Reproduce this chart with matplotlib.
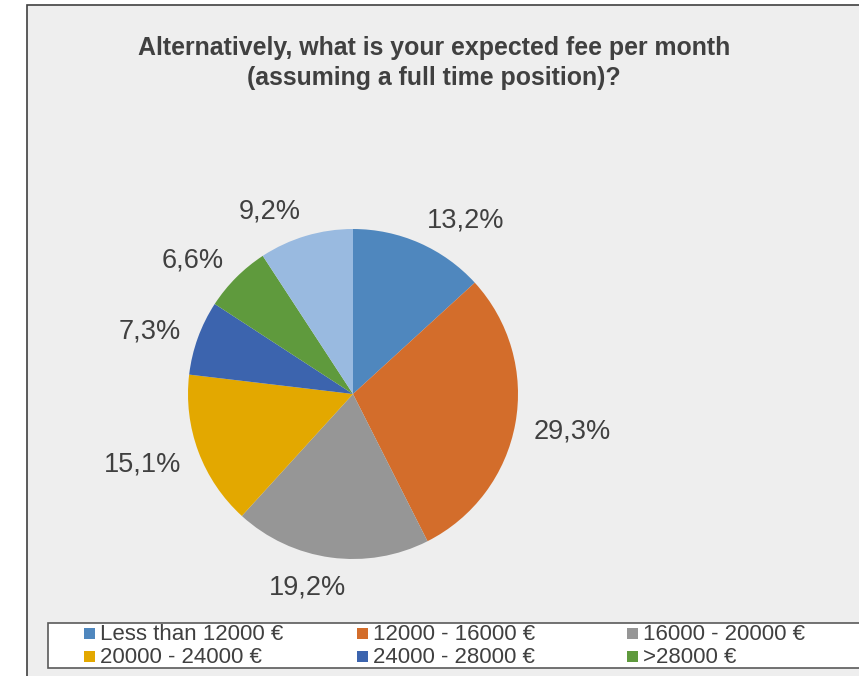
import numpy as np
import matplotlib
matplotlib.use("Agg")
import matplotlib.pyplot as plt
from matplotlib.patches import Rectangle

plt.rcParams['font.family'] = ['Liberation Sans', 'DejaVu Sans']

# Survey answers: expected monthly fee
categories = ["Less than 12000 €", "12000 - 16000 €", "16000 - 20000 €",
              "20000 - 24000 €", "24000 - 28000 €", ">28000 €", "No answer"]
shares = [13.2, 29.3, 19.2, 15.1, 7.3, 6.6, 9.2]
colors = ["#4F87BE", "#D36D2B", "#969696", "#E3A800", "#3C64AE", "#5F9A3D", "#99BAE0"]
legend_count = 6
title = "Alternatively, what is your expected fee per month\n(assuming a full time position)?"

W, H = 859, 676
fig = plt.figure(figsize=(W / 100, H / 100), dpi=100)
fig.patch.set_facecolor("white")

# Chart area panel
fig.patches.append(Rectangle((27 / W, -0.01), 1.0, (H - 5) / H + 0.01,
                             transform=fig.transFigure, facecolor="#EEEEEE",
                             edgecolor="#404040", linewidth=1.2, zorder=-2))

fig.text(434 / W, 1 - 63 / H, title, ha="center", va="center",
         fontsize=17.9, fontweight="bold", color="#404040", linespacing=1.33)

# Pie axes: centre (353, 394) px, radius 165 px
cx, cy, r = 353, 394, 165
ax = fig.add_axes([(cx - r) / W, (H - cy - r) / H, 2 * r / W, 2 * r / H])
ax.set_zorder(3)
wedges, _ = ax.pie(shares, colors=colors, startangle=90, counterclock=False,
                   radius=1.0, wedgeprops=dict(linewidth=0))
ax.set_xlim(-1, 1)
ax.set_ylim(-1, 1)
ax.set_aspect("equal")
ax.axis("off")

# Percentage labels outside each slice: anchored on the slice's mid-angle ray,
# with the label box pushed outward according to the direction.
label_fs = 19.5
px = r  # pixels per data unit
digit_h = 0.72 * label_fs * 100 / 72 / px
renderer = fig.canvas.get_renderer()
for w, v in zip(wedges, shares):
    mid = np.deg2rad((w.theta1 + w.theta2) / 2)
    c, s = np.cos(mid), np.sin(mid)
    t = ax.text(0, 0, f"{v:.1f}%".replace(".", ","), ha="center", va="baseline",
                fontsize=label_fs, color="#404040", clip_on=False)
    tw = t.get_window_extent(renderer).width / px
    ox = tw / 2 * np.clip(4 * c, -1, 1)
    oy = digit_h / 2 * np.clip(s, -1, 1)
    x = 1.11 * c + ox
    y = 1.11 * s + oy
    t.set_position((x, y - digit_h / 2))

# Legend box along the bottom
fig.patches.append(Rectangle((48 / W, 1 - 668 / H), 1.0, 45 / H,
                             transform=fig.transFigure, facecolor="white",
                             edgecolor="#5A5A5A", linewidth=1.2, zorder=-1))
col_x = [84, 357, 627]
row_base = [640, 663]
for i in range(legend_count):
    x0 = col_x[i % 3]
    yb = row_base[i // 3]
    fig.patches.append(Rectangle((x0 / W, 1 - (yb - 1) / H), 11 / W, 11 / H,
                                 transform=fig.transFigure, facecolor=colors[i],
                                 edgecolor="none", zorder=2))
    fig.text((x0 + 16) / W, 1 - yb / H, categories[i], ha="left", va="baseline",
             fontsize=16, color="#404040", zorder=3)

fig.savefig("out.png", dpi=100, facecolor=fig.get_facecolor())
